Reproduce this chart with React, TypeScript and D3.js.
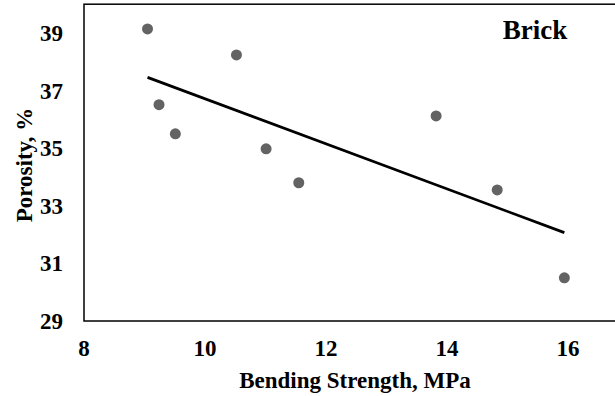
import React from "react";
import * as d3 from "d3";

const strength = [9.05, 9.24, 9.51, 10.52, 11.01, 11.55, 13.82, 14.83, 15.94];
const porosity = [39.14, 36.51, 35.5, 38.24, 34.98, 33.8, 36.12, 33.55, 30.5];
const xTicks = [8, 10, 12, 14, 16];
const yTicks = [29, 31, 33, 35, 37, 39];
const xTitle = "Bending Strength, MPa";
const yTitle = "Porosity, %";
const label = "Brick";

const W = 615;
const H = 396;

export default function App() {
  const x = d3.scaleLinear().domain([8, 17]).range([84, 628.5]);
  const y = d3.scaleLinear().domain([29, 40]).range([321, 4.2]);

  const n = strength.length;
  const mx = d3.mean(strength)!;
  const my = d3.mean(porosity)!;
  let sxy = 0, sxx = 0;
  for (let i = 0; i < n; i++) {
    sxy += (strength[i] - mx) * (porosity[i] - my);
    sxx += (strength[i] - mx) ** 2;
  }
  const slope = sxy / sxx;
  const icpt = my - slope * mx;
  const x0 = d3.min(strength)!;
  const x1 = d3.max(strength)!;
  const trend = d3.line<number>().x((v) => x(v)).y((v) => y(icpt + slope * v))([x0, x1]);

  const font = "'Liberation Serif', 'Times New Roman', serif";
  return (
    <svg width={W} height={H} style={{ position: "absolute", left: 0, top: 0, background: "#fff" }} fontFamily={font}>
      <rect x={0} y={0} width={W} height={H} fill="#fff" />
      <rect x={x(8)} y={y(40)} width={x(17) - x(8)} height={y(29) - y(40)} fill="none" stroke="#000" strokeWidth={1.5} />
      {yTicks.map((t) => (
        <text key={t} x={63} y={y(t)} dy="0.35em" textAnchor="end" fontSize={23} fontWeight="bold" fill="#000">
          {t}
        </text>
      ))}
      {xTicks.map((t) => (
        <text key={t} x={x(t)} y={356} textAnchor="middle" fontSize={23} fontWeight="bold" fill="#000">
          {t}
        </text>
      ))}
      <text x={355} y={388} textAnchor="middle" fontSize={23} fontWeight="bold" fill="#000">
        {xTitle}
      </text>
      <text transform={`translate(32,165) rotate(-90)`} textAnchor="middle" fontSize={23} fontWeight="bold" fill="#000">
        {yTitle}
      </text>
      <path d={trend ?? ""} fill="none" stroke="#000" strokeWidth={2.75} />
      {strength.map((s, i) => (
        <circle key={i} cx={x(s)} cy={y(porosity[i])} r={5.5} fill="#636363" />
      ))}
      <text x={535} y={39} textAnchor="middle" fontSize={27} fontWeight="bold" fill="#000">
        {label}
      </text>
    </svg>
  );
}
